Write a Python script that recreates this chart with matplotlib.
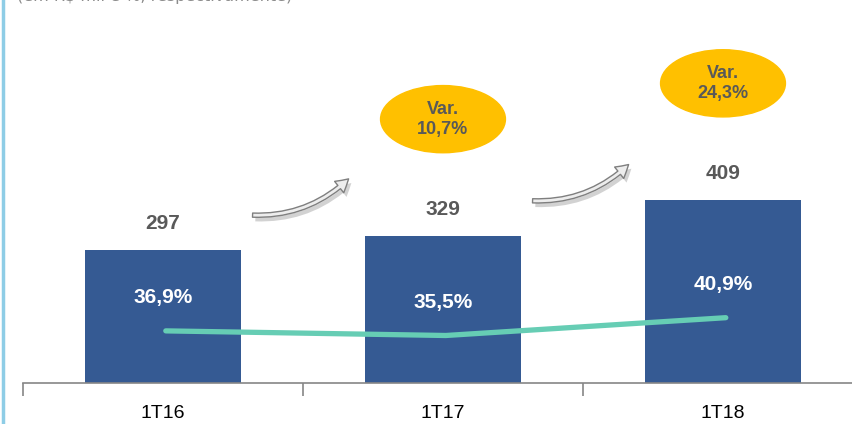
import numpy as np
import matplotlib
matplotlib.use("Agg")
import matplotlib.pyplot as plt
import matplotlib.patheffects as pe
from matplotlib.patches import Ellipse, FancyArrowPatch

# data
periods = ["1T16", "1T17", "1T18"]
values = [297, 329, 409]
margins = [36.9, 35.5, 40.9]
variations = ["10,7%", "24,3%"]
subtitle = "(em R$ mil e %, respectivamente)"

BAR_COLOR = "#355A93"
LINE_COLOR = "#66CDB4"
TEXT_GRAY = "#595959"
OVAL_COLOR = "#FFC000"

plt.rcParams["font.family"] = ["Liberation Sans Narrow", "Liberation Sans", "DejaVu Sans"]

fig = plt.figure(figsize=(8.52, 4.24), dpi=100)
ax = fig.add_axes([23 / 852, 41 / 424, 840 / 852, 383 / 424])
x = np.arange(len(periods))

ax.bar(x, values, width=0.555, color=BAR_COLOR, zorder=2)
ax.set_xlim(-0.5, 2.5)
ax.set_ylim(0, 855)

# axis styling
for s in ["top", "right", "left"]:
    ax.spines[s].set_visible(False)
ax.spines["bottom"].set_color("#868686")
ax.spines["bottom"].set_linewidth(1.2)
ax.set_yticks([])
ax.set_xticks(np.arange(-0.5, 3.0, 1.0), minor=False)
ax.set_xticklabels([])
ax.tick_params(axis="x", which="major", length=9, color="#868686", width=1.2)
ax.set_xticks(x, minor=True)
ax.set_xticklabels(periods, minor=True, fontsize=14)
ax.tick_params(axis="x", which="minor", length=0, pad=16)

# value labels above bars
for xi, v in zip(x, values):
    ax.annotate(str(v), (xi, v), xytext=(0, 19), textcoords="offset points",
                ha="center", va="center", fontsize=15, fontweight="bold",
                color=TEXT_GRAY)

# margin line on secondary axis
ax2 = ax.twinx()
ax2.set_ylim(21.1, 137.2)
ax2.axis("off")
ax2.plot(x + 0.01, margins, color=LINE_COLOR, lw=3.8, solid_capstyle="round", zorder=3)
for xi, m in zip(x, margins):
    ax2.annotate(f"{m:.1f}%".replace(".", ","), (xi, m), xytext=(0, 24),
                 textcoords="offset points", ha="center", va="center",
                 fontsize=15, fontweight="bold", color="white")

# variation ovals and arrows
for i, var in enumerate(variations):
    j = i + 1
    oy = values[j] + 260
    ax.add_patch(Ellipse((x[j], oy), 0.446, 150, color=OVAL_COLOR, zorder=4))
    ax.text(x[j], oy, "Var.\n" + var, ha="center", va="center", fontsize=13,
            fontweight="bold", color=TEXT_GRAY, linespacing=1.25, zorder=5)

    sy = values[i] + 78
    arr = FancyArrowPatch((x[i] + 0.31, sy), (x[i] + 0.67, sy + 85),
                          connectionstyle="arc3,rad=0.22",
                          arrowstyle="simple,head_width=0.7,head_length=0.6,tail_width=0.2",
                          mutation_scale=15, facecolor="#EDEDED", edgecolor="#7F7F7F",
                          lw=1.0, zorder=4,
                          path_effects=[pe.withSimplePatchShadow(offset=(2, -3),
                                                                  shadow_rgbFace="#808080",
                                                                  alpha=0.35)])
    ax.add_patch(arr)

# subtitle cut at the top and left border
fig.text(17 / 852, 1 - 1 / 424, subtitle, ha="left", va="baseline", fontsize=11.5,
         color="#8C8C8C", family=["DejaVu Sans"])
fig.add_artist(plt.Line2D([2.5 / 852, 2.5 / 852], [0, 1], color="#8ECDE6", lw=2.5,
                          transform=fig.transFigure))

fig.savefig("out.png", dpi=100)
